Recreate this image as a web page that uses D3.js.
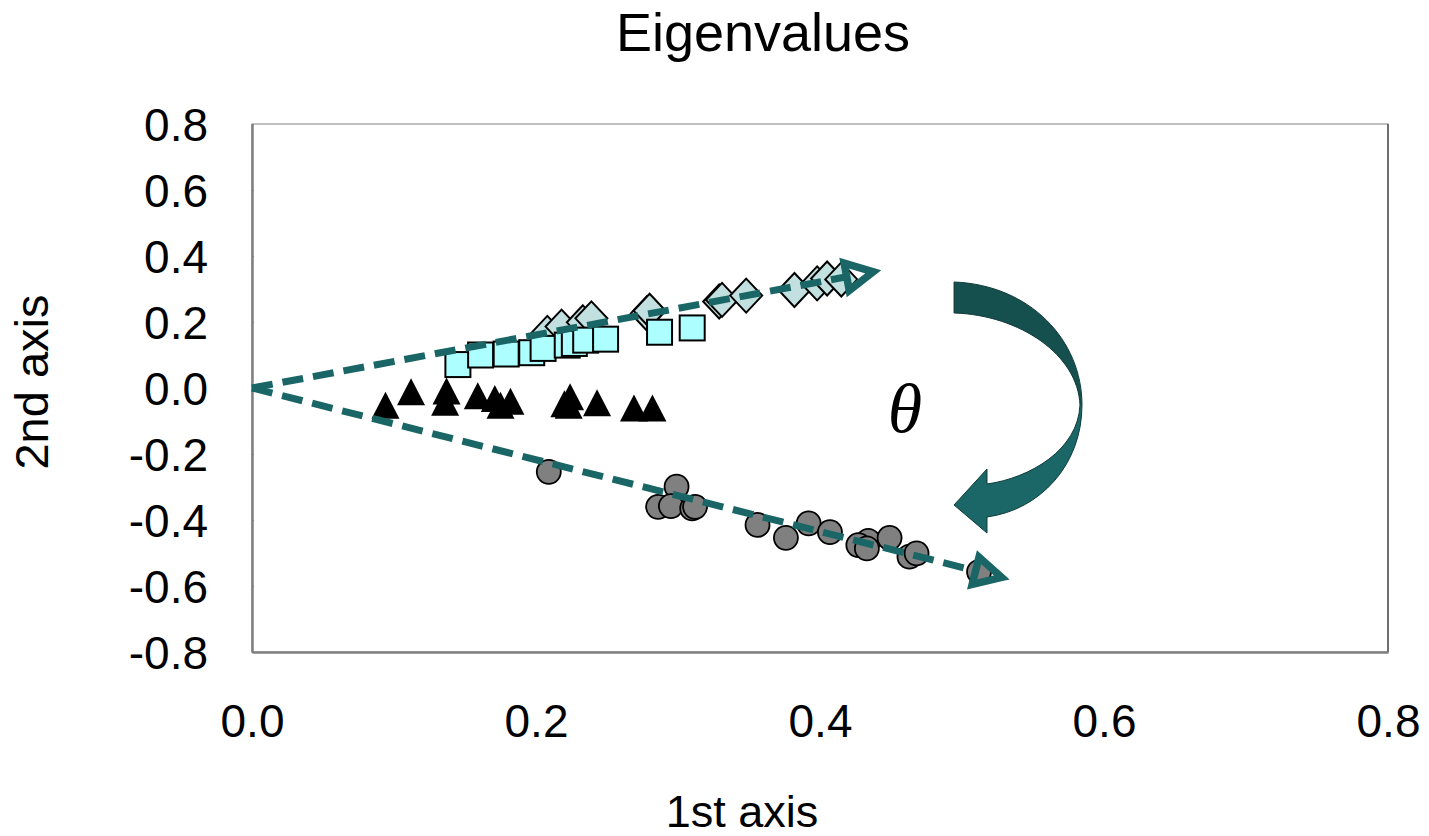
<!DOCTYPE html>
<html>
<head>
<meta charset="utf-8">
<script src="https://cdn.jsdelivr.net/npm/d3@7"></script>
<style>
  body { margin: 0; background: #fff; }
  text { font-family: "Liberation Sans", Arial, sans-serif; fill: #000; }
</style>
</head>
<body>
<div id="chart"></div>
<script>
// axis ticks
const xTicks = [0.0, 0.2, 0.4, 0.6, 0.8];
const yTicks = [0.8, 0.6, 0.4, 0.2, 0.0, -0.2, -0.4, -0.6, -0.8];

// series: [1st axis, 2nd axis]
const diamonds = [
    [0.208, 0.167], [0.218, 0.186], [0.233, 0.199], [0.239, 0.211],
    [0.278, 0.226], [0.280, 0.234], [0.329, 0.262], [0.331, 0.267],
    [0.348, 0.280], [0.382, 0.297], [0.398, 0.317], [0.405, 0.332],
    [0.415, 0.329]
];
const squares = [
    [0.145, 0.071], [0.161, 0.100], [0.179, 0.103], [0.197, 0.107],
    [0.205, 0.120], [0.222, 0.130], [0.227, 0.135], [0.235, 0.145],
    [0.249, 0.148], [0.287, 0.169], [0.310, 0.182]
];
const triangles = [
    [0.094, -0.057], [0.112, -0.016], [0.137, -0.014], [0.136, -0.048],
    [0.159, -0.028], [0.171, -0.036], [0.175, -0.057], [0.182, -0.045],
    [0.224, -0.031], [0.220, -0.052], [0.223, -0.057], [0.243, -0.049],
    [0.269, -0.065], [0.282, -0.065]
];
const circles = [
    [0.209, -0.254], [0.299, -0.299], [0.286, -0.360], [0.295, -0.358],
    [0.310, -0.365], [0.312, -0.360], [0.356, -0.415], [0.376, -0.454],
    [0.392, -0.410], [0.407, -0.437], [0.434, -0.463], [0.427, -0.476],
    [0.433, -0.486], [0.449, -0.454], [0.463, -0.511], [0.468, -0.501],
    [0.512, -0.557]
];

// eigenvector arrows from the origin
const vectors = [
    { from: [0, 0], to: [0.4375, 0.352] },
    { from: [0, 0], to: [0.528, -0.574] }
];

const width = 1429, height = 836;
const margin = { top: 124, right: 41, bottom: 184, left: 252 };

const svg = d3.select("#chart").append("svg")
    .attr("width", width)
    .attr("height", height);

const x = d3.scaleLinear().domain([0, 0.8]).range([margin.left, width - margin.right]);
const y = d3.scaleLinear().domain([-0.8, 0.8]).range([height - margin.bottom, margin.top]);

const teal = "#1a6666";
const fmt = d => d.toFixed(1);

// plot frame
svg.append("rect")
    .attr("x", x(0)).attr("y", y(0.8))
    .attr("width", x(0.8) - x(0)).attr("height", y(-0.8) - y(0.8))
    .attr("fill", "none").attr("stroke", "#808080").attr("stroke-width", 1);
svg.append("line")
    .attr("x1", x(0.8)).attr("x2", x(0.8)).attr("y1", y(0.8)).attr("y2", y(-0.8))
    .attr("stroke", "#555").attr("stroke-width", 1.5);

// axes
const yAxis = svg.append("g")
    .attr("transform", `translate(${x(0)},0)`)
    .call(d3.axisLeft(y).tickValues(yTicks).tickFormat(fmt).tickSizeInner(-2).tickSizeOuter(0).tickPadding(44));
const xAxis = svg.append("g")
    .attr("transform", `translate(0,${y(-0.8)})`)
    .call(d3.axisBottom(x).tickValues(xTicks).tickFormat(fmt).tickSize(0).tickPadding(52));

[yAxis, xAxis].forEach(g => {
    g.select(".domain").attr("stroke", "#808080").attr("stroke-width", 2.5);
    g.selectAll(".tick line").attr("stroke", "#808080");
    g.selectAll(".tick text")
        .attr("font-size", 46)
        .attr("fill", "#000");
});
yAxis.selectAll(".tick text").attr("dy", "0.36em");
xAxis.selectAll(".tick text").attr("dy", "0.71em");

// titles
svg.append("text")
    .attr("x", 763).attr("y", 51)
    .attr("text-anchor", "middle")
    .attr("font-size", 54)
    .text("Eigenvalues");

svg.append("text")
    .attr("x", 742).attr("y", 827)
    .attr("text-anchor", "middle")
    .attr("font-size", 45)
    .text("1st axis");

svg.append("text")
    .attr("transform", `translate(48,${(y(0.8) + y(-0.8)) / 2 - 6}) rotate(-90)`)
    .attr("text-anchor", "middle")
    .attr("font-size", 47)
    .text("2nd axis");

// markers
const plot = svg.append("g");

plot.selectAll(".diamond").data(diamonds).join("path")
    .attr("class", "diamond")
    .attr("transform", d => `translate(${x(d[0])},${y(d[1])})`)
    .attr("d", "M0,-17L16,0L0,17L-16,0Z")
    .attr("fill", "#c2e0df")
    .attr("stroke", "#000")
    .attr("stroke-width", 2);

plot.selectAll(".square").data(squares).join("rect")
    .attr("class", "square")
    .attr("x", d => x(d[0]) - 12.5)
    .attr("y", d => y(d[1]) - 12.5)
    .attr("width", 25).attr("height", 25)
    .attr("fill", "#adffff")
    .attr("stroke", "#000")
    .attr("stroke-width", 2);

plot.selectAll(".triangle").data(triangles).join("path")
    .attr("class", "triangle")
    .attr("transform", d => `translate(${x(d[0])},${y(d[1])})`)
    .attr("d", "M0,-15L14,12L-14,12Z")
    .attr("fill", "#000");

plot.selectAll(".circle").data(circles).join("circle")
    .attr("class", "circle")
    .attr("cx", d => x(d[0]))
    .attr("cy", d => y(d[1]))
    .attr("r", 12)
    .attr("fill", "#808080")
    .attr("stroke", "#000")
    .attr("stroke-width", 1.8);

// dashed eigenvector lines with open arrowheads
const headLen = 27, headHalf = 14;
vectors.forEach(v => {
    const x0 = x(v.from[0]), y0 = y(v.from[1]);
    const x1 = x(v.to[0]), y1 = y(v.to[1]);
    const len = Math.hypot(x1 - x0, y1 - y0);
    const ux = (x1 - x0) / len, uy = (y1 - y0) / len;
    const bx = x1 - ux * headLen, by = y1 - uy * headLen;
    svg.append("line")
        .attr("x1", x0).attr("y1", y0).attr("x2", bx).attr("y2", by)
        .attr("stroke", teal).attr("stroke-width", 7)
        .attr("stroke-dasharray", "21,10");
    const pts = [
        [x1, y1],
        [bx - uy * headHalf, by + ux * headHalf],
        [bx + uy * headHalf, by - ux * headHalf]
    ];
    svg.append("path")
        .attr("d", "M" + pts.map(p => p.join(",")).join("L") + "Z")
        .attr("fill", "none")
        .attr("stroke", teal).attr("stroke-width", 7.5)
        .attr("stroke-linejoin", "miter");
});

// curved rotation arrow, geometry in data units
const P = (a, b) => `${x(a)},${y(b)}`;
const grad = svg.append("defs").append("linearGradient")
    .attr("id", "arrowFill")
    .attr("gradientUnits", "userSpaceOnUse")
    .attr("x1", 0).attr("x2", 0)
    .attr("y1", y(0.33)).attr("y2", y(-0.44));
grad.append("stop").attr("offset", "0.49").attr("stop-color", "#154f4e");
grad.append("stop").attr("offset", "0.49").attr("stop-color", "#1b6666");

svg.append("path")
    .attr("d",
        `M${P(0.4944, 0.3212)}` +
        `C${P(0.5479, 0.3121)} ${P(0.5845, 0.1455)} ${P(0.5845, -0.0515)}` +
        `C${P(0.5845, -0.2333)} ${P(0.5549, -0.3697)} ${P(0.5176, -0.3909)}` +
        `L${P(0.5176, -0.4394)}` +
        `L${P(0.4944, -0.3545)}` +
        `L${P(0.5176, -0.2455)}` +
        `L${P(0.5176, -0.2909)}` +
        `C${P(0.5479, -0.2727)} ${P(0.5817, -0.1879)} ${P(0.5831, -0.0515)}` +
        `C${P(0.5817, 0.1000)} ${P(0.5408, 0.2212)} ${P(0.4944, 0.2273)}Z`)
    .attr("fill", "url(#arrowFill)")
    .attr("stroke", "#0e3a3a")
    .attr("stroke-width", 1);

svg.append("text")
    .attr("x", 905).attr("y", 432)
    .attr("text-anchor", "middle")
    .style("font-family", "'Liberation Serif', 'DejaVu Serif', serif")
    .style("font-style", "italic")
    .attr("font-size", 70)
    .text("θ");
</script>
</body>
</html>
